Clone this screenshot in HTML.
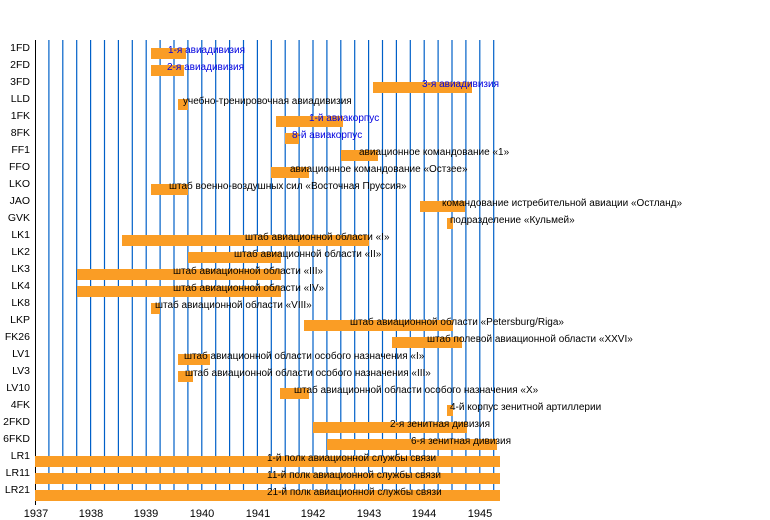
<!DOCTYPE html>
<html><head><meta charset="utf-8"><style>
html,body{margin:0;padding:0;background:#fff;}
svg{display:block;font-family:"Liberation Sans",Arial,sans-serif;}
</style></head><body>
<svg width="770" height="520" viewBox="0 0 770 520" xmlns="http://www.w3.org/2000/svg">
<g stroke="#0060c8" stroke-width="1.2">
<line x1="48.9" y1="40" x2="48.9" y2="500"/><line x1="62.8" y1="40" x2="62.8" y2="500"/><line x1="76.7" y1="40" x2="76.7" y2="500"/><line x1="90.6" y1="40" x2="90.6" y2="500"/><line x1="104.5" y1="40" x2="104.5" y2="500"/><line x1="118.4" y1="40" x2="118.4" y2="500"/><line x1="132.3" y1="40" x2="132.3" y2="500"/><line x1="146.2" y1="40" x2="146.2" y2="500"/><line x1="160.1" y1="40" x2="160.1" y2="500"/><line x1="174" y1="40" x2="174" y2="500"/><line x1="187.9" y1="40" x2="187.9" y2="500"/><line x1="201.8" y1="40" x2="201.8" y2="500"/><line x1="215.7" y1="40" x2="215.7" y2="500"/><line x1="229.6" y1="40" x2="229.6" y2="500"/><line x1="243.5" y1="40" x2="243.5" y2="500"/><line x1="257.4" y1="40" x2="257.4" y2="500"/><line x1="271.3" y1="40" x2="271.3" y2="500"/><line x1="285.2" y1="40" x2="285.2" y2="500"/><line x1="299.1" y1="40" x2="299.1" y2="500"/><line x1="313" y1="40" x2="313" y2="500"/><line x1="326.9" y1="40" x2="326.9" y2="500"/><line x1="340.8" y1="40" x2="340.8" y2="500"/><line x1="354.7" y1="40" x2="354.7" y2="500"/><line x1="368.6" y1="40" x2="368.6" y2="500"/><line x1="382.5" y1="40" x2="382.5" y2="500"/><line x1="396.4" y1="40" x2="396.4" y2="500"/><line x1="410.3" y1="40" x2="410.3" y2="500"/><line x1="424.2" y1="40" x2="424.2" y2="500"/><line x1="438.1" y1="40" x2="438.1" y2="500"/><line x1="452" y1="40" x2="452" y2="500"/><line x1="465.9" y1="40" x2="465.9" y2="500"/><line x1="479.8" y1="40" x2="479.8" y2="500"/><line x1="493.7" y1="40" x2="493.7" y2="500"/>
</g>
<g stroke="#000" stroke-width="1">
<line x1="35.5" y1="40" x2="35.5" y2="505"/><line x1="35" y1="500.5" x2="500" y2="500.5"/>
</g>
<g fill="#fa9d25">
<rect x="151" y="48" width="35" height="11"/>
<rect x="151" y="65" width="33" height="11"/>
<rect x="373" y="82" width="99" height="11"/>
<rect x="178" y="99" width="10" height="11"/>
<rect x="276" y="116" width="67" height="11"/>
<rect x="285" y="133" width="14" height="11"/>
<rect x="341" y="150" width="37" height="11"/>
<rect x="271" y="167" width="38" height="11"/>
<rect x="151" y="184" width="37" height="11"/>
<rect x="420" y="201" width="45" height="11"/>
<rect x="447" y="218" width="6" height="11"/>
<rect x="122" y="235" width="247" height="11"/>
<rect x="188" y="252" width="93" height="11"/>
<rect x="77" y="269" width="204" height="11"/>
<rect x="77" y="286" width="204" height="11"/>
<rect x="151" y="303" width="9" height="11"/>
<rect x="304" y="320" width="149" height="11"/>
<rect x="392" y="337" width="70" height="11"/>
<rect x="178" y="354" width="32" height="11"/>
<rect x="178" y="371" width="15" height="11"/>
<rect x="280" y="388" width="29" height="11"/>
<rect x="447" y="405" width="6" height="11"/>
<rect x="313" y="422" width="154" height="11"/>
<rect x="327" y="439" width="170" height="11"/>
<rect x="35" y="456" width="465" height="11"/>
<rect x="35" y="473" width="465" height="11"/>
<rect x="35" y="490" width="465" height="11"/>
</g>
<g font-size="10.5" fill="#000" text-anchor="end">
<text x="30" y="51">1FD</text><text x="30" y="68">2FD</text><text x="30" y="85">3FD</text><text x="30" y="102">LLD</text><text x="30" y="119">1FK</text><text x="30" y="136">8FK</text><text x="30" y="153">FF1</text><text x="30" y="170">FFO</text><text x="30" y="187">LKO</text><text x="30" y="204">JAO</text><text x="30" y="221">GVK</text><text x="30" y="238">LK1</text><text x="30" y="255">LK2</text><text x="30" y="272">LK3</text><text x="30" y="289">LK4</text><text x="30" y="306">LK8</text><text x="30" y="323">LKP</text><text x="30" y="340">FK26</text><text x="30" y="357">LV1</text><text x="30" y="374">LV3</text><text x="30" y="391">LV10</text><text x="30" y="408">4FK</text><text x="30" y="425">2FKD</text><text x="30" y="442">6FKD</text><text x="30" y="459">LR1</text><text x="30" y="476">LR11</text><text x="30" y="493">LR21</text>
</g>
<g font-size="11" fill="#000" text-anchor="middle">
<text x="36" y="517">1937</text><text x="91" y="517">1938</text><text x="146" y="517">1939</text><text x="202" y="517">1940</text><text x="258" y="517">1941</text><text x="313" y="517">1942</text><text x="369" y="517">1943</text><text x="424" y="517">1944</text><text x="480" y="517">1945</text>
</g>
<g font-size="10" fill="#0000e0">
<text x="168" y="53">1-я авиадивизия</text>
<text x="167" y="70">2-я авиадивизия</text>
<text x="422" y="87">3-я авиадивизия</text>
<text x="309" y="121">1-й авиакорпус</text>
<text x="292" y="138">8-й авиакорпус</text>
</g>
<g font-size="10" fill="#000">
<text x="183" y="104">учебно-тренировочная авиадивизия</text>
<text x="359" y="155">авиационное командование «1»</text>
<text x="290" y="172">авиационное командование «Остзее»</text>
<text x="169" y="189">штаб военно-воздушных сил «Восточная Пруссия»</text>
<text x="442" y="206">командование истребительной авиации «Остланд»</text>
<text x="450" y="223">подразделение «Кульмей»</text>
<text x="245" y="240">штаб авиационной области «I»</text>
<text x="234" y="257">штаб авиационной области «II»</text>
<text x="173" y="274">штаб авиационной области «III»</text>
<text x="173" y="291">штаб авиационной области «IV»</text>
<text x="155" y="308">штаб авиационной области «VIII»</text>
<text x="350" y="325">штаб авиационной области «Petersburg/Riga»</text>
<text x="427" y="342">штаб полевой авиационной области «XXVI»</text>
<text x="184" y="359">штаб авиационной области особого назначения «I»</text>
<text x="185" y="376">штаб авиационной области особого назначения «III»</text>
<text x="294" y="393">штаб авиационной области особого назначения «X»</text>
<text x="450" y="410">4-й корпус зенитной артиллерии</text>
<text x="390" y="427">2-я зенитная дивизия</text>
<text x="411" y="444">6-я зенитная дивизия</text>
<text x="267" y="461">1-й полк авиационной службы связи</text>
<text x="267" y="478">11-й полк авиационной службы связи</text>
<text x="267" y="495">21-й полк авиационной службы связи</text>
</g>
</svg>
</body></html>
